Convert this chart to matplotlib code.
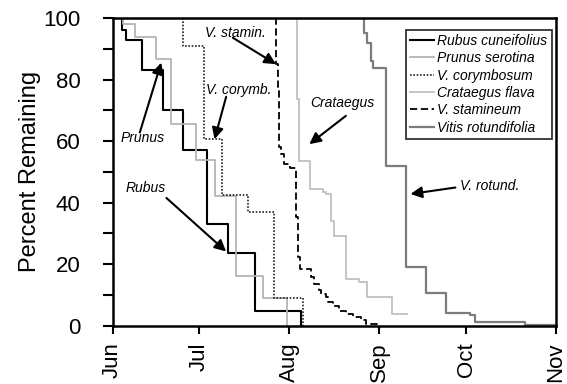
import matplotlib
matplotlib.use("Agg")
import matplotlib.pyplot as plt

plt.rcParams['font.family'] = ['Liberation Sans', 'DejaVu Sans']

# Days after June 1 and percent remaining (step curves)
rubus_days = [0, 3.1, 4.8, 10.2, 17.4, 24.3, 32.7, 39.8, 49.2, 65.2]
rubus_pct = [100, 96, 93, 83, 70, 57, 33, 23.5, 4.6, 0]

prunus_days = [0, 3.7, 7.7, 15.1, 20.3, 28.9, 35.2, 42.6, 51.8, 60.2]
prunus_pct = [100, 98, 94, 86.6, 65.5, 53.8, 42, 16.2, 8.9, 0]

corymb_days = [0, 24.3, 31.4, 37.7, 46.7, 55.8, 65.8]
corymb_pct = [100, 91, 60.6, 42.5, 37, 8.9, 0]

stamin_days = [0, 56.4, 57.0, 57.5, 58.1, 59.1, 61.3, 63.3, 63.9, 64.8, 68.4, 69.6,
               71.2, 71.9, 73.6, 74.2, 75.9, 78.1, 80.5, 82.8, 85.6, 87.3, 91.4]
stamin_pct = [100, 85, 77.4, 58, 55.8, 52.6, 51.4, 35.2, 22.2, 18.4, 15.7, 13.6,
              11.7, 10.4, 9.2, 7.6, 6.5, 4.9, 3.8, 2.7, 1.9, 0.6, 0]

crat_days = [0, 63.6, 64.4, 68.1, 72.6, 73.6, 75.3, 76.4, 80.5, 85.0, 87.9, 96.6, 101.7]
crat_pct = [100, 73.6, 53.6, 44.4, 43.5, 42.9, 34.1, 29.2, 15.2, 14.1, 9.2, 3.8, 3.8]

vitis_days = [0, 86.8, 87.9, 89.3, 90.0, 94.2, 101.3, 108.0, 114.9, 123.5, 125.2, 142.4, 153]
vitis_pct = [100, 95.2, 92, 86, 83.9, 51.9, 19.2, 10.6, 4.0, 3.6, 1.3, 0.3, 0.3]

month_days = [0, 30, 61, 92, 122, 153]
month_labels = ['Jun', 'Jul', 'Aug', 'Sep', 'Oct', 'Nov']

fig = plt.figure(figsize=(5.67, 3.84), dpi=100)
ax = fig.add_axes([0.1985, 0.152, 0.782, 0.801])

ax.step(rubus_days, rubus_pct, where='post', color='black', lw=1.5, label='Rubus cuneifolius')
ax.step(prunus_days, prunus_pct, where='post', color='#b4b4b4', lw=1.3, label='Prunus serotina')
ax.step(corymb_days, corymb_pct, where='post', color='#222222', lw=1.2, ls=(0, (1, 1)), label='V. corymbosum')
ax.step(crat_days, crat_pct, where='post', color='#c0c0c0', lw=1.3, label='Crataegus flava')
ax.step(stamin_days, stamin_pct, where='post', color='black', lw=1.3, ls=(0, (4, 2)), label='V. stamineum')
ax.step(vitis_days, vitis_pct, where='post', color='#7c7c7c', lw=1.6, label='Vitis rotundifolia')

ax.set_xlim(0, 153)
ax.set_ylim(0, 100)
ax.set_xticks(month_days)
ax.set_xticklabels(month_labels, rotation=90, fontsize=16)
ax.set_yticks([0, 20, 40, 60, 80, 100])
ax.set_yticks([10, 30, 50, 70, 90], minor=True)
ax.tick_params(axis='y', which='major', labelsize=16, direction='out', length=7, width=1.5, pad=16)
ax.tick_params(axis='y', which='minor', direction='out', length=7, width=1.5)
ax.tick_params(axis='x', direction='out', length=6, width=1.5, pad=6)
ax.set_ylabel('Percent Remaining', fontsize=17, labelpad=2)
for s in ax.spines.values():
    s.set_linewidth(1.8)

leg = ax.legend(loc='upper right', bbox_to_anchor=(0.990, 0.962),
                prop={'style': 'italic', 'size': 10}, frameon=True, fancybox=False,
                edgecolor='black', handlelength=1.7, handletextpad=0.25,
                labelspacing=0.24, borderpad=0.3, borderaxespad=0)
leg.get_frame().set_linewidth(1.3)

ap = dict(arrowstyle='-|>', color='black', lw=1.5, mutation_scale=17, shrinkA=0, shrinkB=0)
tk = dict(fontsize=10, style='italic', ha='center', va='center')
ax.text(42.3, 95.2, 'V. stamin.', **tk)
ax.annotate('', xy=(56.4, 85.0), xytext=(41.5, 93.6), arrowprops=ap)
ax.text(43.7, 76.5, 'V. corymb.', **tk)
ax.annotate('', xy=(35.2, 60.6), xytext=(39.2, 74.4), arrowprops=ap)
ax.text(10.3, 61.1, 'Prunus', **tk)
ax.annotate('', xy=(16.8, 85.5), xytext=(9.4, 62.8), arrowprops=ap)
ax.text(11.3, 44.9, 'Rubus', **tk)
ax.annotate('', xy=(39.2, 24.1), xytext=(18.6, 41.5), arrowprops=ap)
ax.text(79.4, 72.5, 'Crataegus', **tk)
ax.annotate('', xy=(67.9, 59.0), xytext=(80.5, 68.2), arrowprops=ap)
ax.text(130.3, 45.5, 'V. rotund.', **tk)
ax.annotate('', xy=(102.8, 42.8), xytext=(118.3, 44.9), arrowprops=ap)

fig.savefig('out.png', dpi=100)
